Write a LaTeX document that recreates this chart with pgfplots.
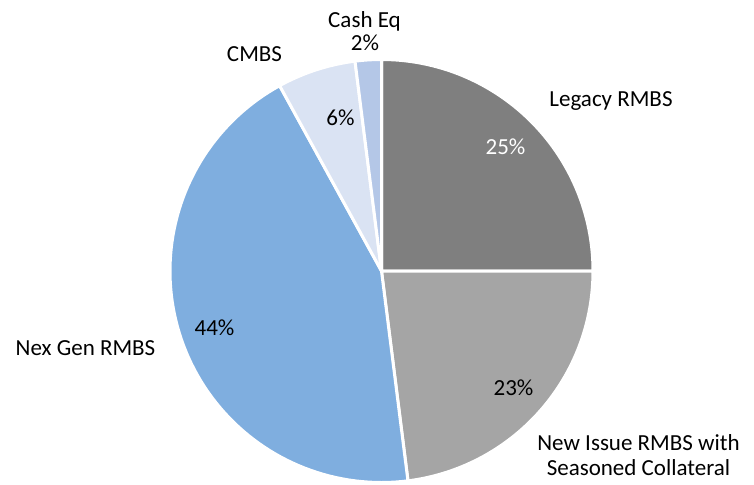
\documentclass[border=0pt]{standalone}
\usepackage{pgfplots}
\pgfplotsset{compat=1.18}
\usepackage{fontspec}
\setmainfont{Carlito}
\definecolor{cLegacy}{RGB}{127,127,127}
\definecolor{cNew}{RGB}{165,165,165}
\definecolor{cNex}{RGB}{127,174,223}
\definecolor{cCMBS}{RGB}{218,227,243}
\definecolor{cCash}{RGB}{180,199,231}
% shares in percent, clockwise from 12 o'clock
\def\vLegacy{25}\def\vNew{23}\def\vNex{44}\def\vCMBS{6}\def\vCash{2}
\pgfmathsetmacro\aA{90}
\pgfmathsetmacro\aB{\aA-3.6*\vLegacy}
\pgfmathsetmacro\aC{\aB-3.6*\vNew}
\pgfmathsetmacro\aD{\aC-3.6*\vNex}
\pgfmathsetmacro\aE{\aD-3.6*\vCMBS}
\pgfmathsetmacro\aF{\aE-3.6*\vCash}
\def\cx{381.5}\def\cy{271}\def\R{211.5}
\newcommand\lf{\fontsize{23}{27}\selectfont}
\newcommand\slice[3]{%
  \addplot[fill=#3, draw=white, line width=3pt, line join=round,
    domain=#2:#1, samples=90, variable=\t]
    ({\cx+\R*cos(t)},{\cy-\R*sin(t)}) -- (axis cs:\cx,\cy) -- cycle;}
\begin{document}
\begin{tikzpicture}
\begin{axis}[
  width=754pt, height=483pt, scale only axis,
  xmin=0, xmax=754, ymin=0, ymax=483, y dir=reverse,
  axis line style={draw=none}, ticks=none, clip=false,
]
\slice{\aA}{\aB}{cLegacy}
\slice{\aB}{\aC}{cNew}
\slice{\aC}{\aD}{cNex}
\slice{\aD}{\aE}{cCMBS}
\slice{\aE}{\aF}{cCash}
\node[font=\lf, inner sep=0pt, anchor=base, text=white] at (axis cs:505.5,154) {25\%};
\node[font=\lf, inner sep=0pt, anchor=base] at (axis cs:611,106) {Legacy RMBS};
\node[font=\lf, inner sep=0pt, anchor=base] at (axis cs:513.5,395) {23\%};
\node[font=\lf, inner sep=0pt, anchor=base] at (axis cs:638.5,450) {New Issue RMBS with};
\node[font=\lf, inner sep=0pt, anchor=base] at (axis cs:638.5,475) {Seasoned Collateral};
\node[font=\lf, inner sep=0pt, anchor=base] at (axis cs:214.5,335) {44\%};
\node[font=\lf, inner sep=0pt, anchor=base] at (axis cs:85.5,355) {Nex Gen RMBS};
\node[font=\lf, inner sep=0pt, anchor=base] at (axis cs:340.5,125) {6\%};
\node[font=\lf, inner sep=0pt, anchor=base] at (axis cs:254.5,61) {CMBS};
\node[font=\lf, inner sep=0pt, anchor=base] at (axis cs:364.5,27) {Cash Eq};
\node[font=\lf, inner sep=0pt, anchor=base] at (axis cs:365,50) {2\%};
\end{axis}
\end{tikzpicture}
\end{document}
